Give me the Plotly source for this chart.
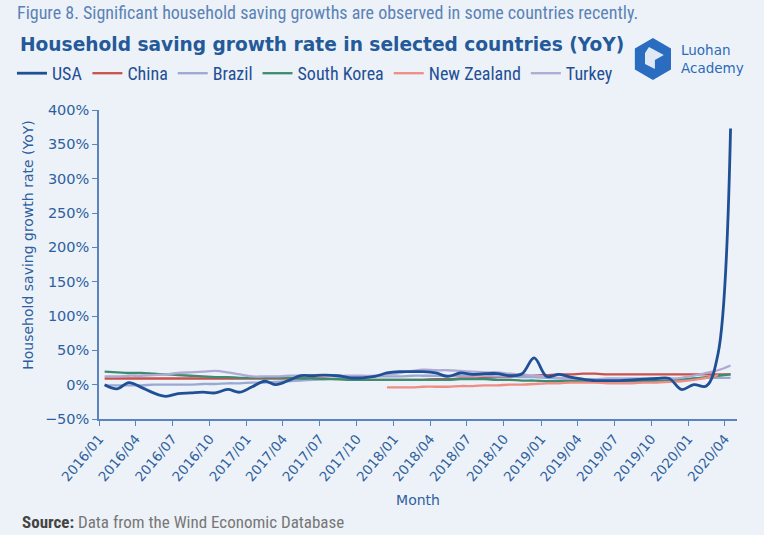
import pandas as pd
import plotly.graph_objects as go

# ---------------- data (YoY %, monthly 2016/01 - 2020/04) ----------------
months = list(pd.date_range("2016-01-01", periods=52, freq="MS") + pd.Timedelta(days=14))

usa = [0, -6, 3, -4, -12, -17, -13, -12, -11, -12, -7, -11,
       -3, 5, 0, 6, 13, 13, 14, 13, 10, 10, 12, 17,
       19, 19, 19, 17, 12, 17, 15, 16, 16, 13, 16, 39,
       12, 15, 11, 8, 6, 6, 6, 7, 8, 9, 9, -7,
       0, -2, 45, 373]
china = [9, 9, 9, 9, 9, 9, 9, 9, 9, 9, 9, 9,
         9, 9, 9, 9, 9, 9, 9, 8, 8, 7, 7, 7,
         7, 7, 7, 8, 8, 9, 9, 10, 11, 11, 12, 13,
         14, 15, 15, 16, 16, 15, 15, 15, 15, 15, 15, 15,
         15, 15, 15, 15]
brazil = [-1, -1, -1, -1, 0, 0, 0, 0, 1, 1, 2, 2,
          3, 3, 4, 5, 6, 7, 8, 9, 10, 11, 12, 12,
          12, 13, 13, 13, 13, 13, 13, 13, 12, 12, 11, 11,
          10, 9, 8, 7, 6, 6, 6, 6, 6, 6, 7, 8,
          9, 10, 10, 10]
korea = [19, 18, 17, 17, 16, 15, 14, 13, 12, 11, 11, 10,
         10, 10, 10, 10, 9, 9, 8, 8, 7, 7, 7, 7,
         7, 7, 7, 7, 7, 8, 8, 8, 7, 7, 6, 6,
         5, 5, 5, 5, 5, 5, 5, 5, 5, 6, 6, 7,
         9, 11, 13, 15]
new_zealand = [None] * 23 + [-4, -4, -4, -3, -3, -3, -2, -2, -1, -1, 0, 0,
                             1, 2, 2, 3, 3, 3, 2, 2, 2, 3, 3, 4,
                             5, 7, 10, 14]
turkey = [12, 12, 13, 13, 14, 15, 17, 18, 19, 20, 18, 15,
          12, 12, 12, 13, 13, 14, 14, 13, 13, 13, 13, 15,
          17, 20, 22, 21, 21, 20, 19, 18, 18, 16, 15, 13,
          12, 10, 9, 8, 8, 9, 9, 9, 9, 9, 9, 10,
          13, 17, 21, 28]

series = [
    ("USA", usa, "#1f4f95", 2.8),
    ("China", china, "#c9524d", 2.3),
    ("Brazil", brazil, "#9aa9d2", 2.3),
    ("South Korea", korea, "#3d8c6f", 2.3),
    ("New Zealand", new_zealand, "#ef8c83", 2.3),
    ("Turkey", turkey, "#aeaad3", 2.3),
]

BG = "#edf2f8"
BLUE = "#2d5f9f"
COND = "Liberation Sans Narrow, Roboto Condensed, Arial Narrow, sans-serif"

# plot area in pixels
W, H = 764, 535
ML, MR, MT, MB = 92, 27, 110, 116
PW, PH = W - ML - MR, H - MT - MB


def px(x):
    return (x - ML) / PW


def py(y):
    return (H - MB - y) / PH


fig = go.Figure()
for rank, (name, vals, color, width) in enumerate(series):
    fig.add_trace(go.Scatter(
        x=months, y=vals, name=name, mode="lines",
        line=dict(color=color, width=width, shape="spline", smoothing=1),
        legendrank=rank + 1, connectgaps=False,
    ))
# draw USA on top
fig.data = tuple(sorted(fig.data, key=lambda t: 1 if t.name == "USA" else 0))

fig.update_layout(
    width=W, height=H,
    margin=dict(l=ML, r=MR, t=MT, b=MB, pad=0),
    paper_bgcolor=BG, plot_bgcolor=BG,
    font=dict(family="DejaVu Sans, Verdana, sans-serif", color=BLUE),
    showlegend=True,
    legend=dict(
        orientation="h", x=px(4), y=py(55), xanchor="left", yanchor="top",
        font=dict(family=COND, size=18, color="#1f4f95"),
        bgcolor="rgba(0,0,0,0)", itemwidth=30, tracegroupgap=0,
    ),
    xaxis=dict(
        type="date", range=["2016-01-01", "2020-05-01"],
        tick0="2016-01-01", dtick="M3", tickformat="%Y/%m",
        tickangle=-50, tickfont=dict(size=13.5, color=BLUE),
        showline=True, linecolor="#5a84bd", linewidth=1.5,
        ticks="outside", ticklen=5, tickcolor="#5a84bd",
        showgrid=False, zeroline=False,
        title=dict(text="Month", font=dict(size=14, color=BLUE), standoff=12),
    ),
    yaxis=dict(
        range=[-50, 400], dtick=50, ticksuffix="%",
        tickfont=dict(size=14.5, color=BLUE),
        showline=True, linecolor="#5a84bd", linewidth=1.5,
        ticks="outside", ticklen=5, tickcolor="#5a84bd",
        showgrid=False, zeroline=False,
    ),
)

annotations = [
    dict(text="Figure 8. Significant household saving growths are observed in some countries recently.",
         x=px(7), y=py(0), xanchor="left", yanchor="top", showarrow=False,
         font=dict(family=COND, size=18, color="#5b82b6")),
    dict(text="<b>Household saving growth rate in selected countries (YoY)</b>",
         x=px(10), y=py(32), xanchor="left", yanchor="top", showarrow=False,
         font=dict(family="DejaVu Sans, Verdana, sans-serif", size=18.6, color="#245a9a")),
    dict(text="Household saving growth rate (YoY)", textangle=-90,
         x=px(20), y=py(245), xanchor="center", yanchor="middle", showarrow=False,
         font=dict(family="DejaVu Sans, Verdana, sans-serif", size=14, color=BLUE)),
    dict(text="Luohan<br>Academy", x=px(678), y=py(40), xanchor="left", yanchor="top",
         align="left", showarrow=False,
         font=dict(family="DejaVu Sans, sans-serif", size=13.5, color="#2a6ab8")),
    dict(text="<b>Source:</b> <span style='color:#777777'>Data from the Wind Economic Database</span>",
         x=px(12), y=py(510), xanchor="left", yanchor="top", showarrow=False,
         font=dict(family=COND, size=17, color="#444444")),
]
fig.update_layout(annotations=[dict(a, xref="paper", yref="paper") for a in annotations])

# Luohan Academy logo (hexagon mark)
cx, cy, r = 652, 59, 21
hexagon = [(cx, cy - r), (cx + 0.87 * r, cy - r / 2), (cx + 0.87 * r, cy + r / 2),
           (cx, cy + r), (cx - 0.87 * r, cy + r / 2), (cx - 0.87 * r, cy - r / 2)]
path = "M " + " L ".join(f"{px(a):.5f},{py(b):.5f}" for a, b in hexagon) + " Z"
inner = [(cx - 4, cy - 12), (cx + 11, cy - 4), (cx + 2, cy + 1), (cx + 2, cy + 10),
         (cx - 8, cy + 5), (cx - 8, cy - 6)]
ipath = "M " + " L ".join(f"{px(a):.5f},{py(b):.5f}" for a, b in inner) + " Z"
fig.update_layout(shapes=[
    dict(type="path", path=path, xref="paper", yref="paper",
         fillcolor="#2a6cc0", line=dict(width=0)),
    dict(type="path", path=ipath, xref="paper", yref="paper",
         fillcolor="#dfe8f5", line=dict(width=0)),
])

fig.write_html("out.html")
